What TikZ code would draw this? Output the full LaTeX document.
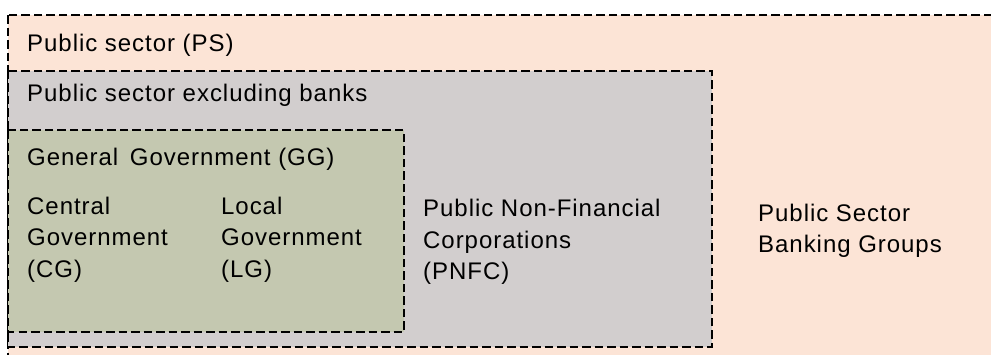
\documentclass[tikz,border=0pt]{standalone}
\usepackage{fontspec}
\setmainfont{Liberation Sans}[LetterSpace=4]
\definecolor{psfill}{HTML}{FCE4D6}
\definecolor{psxbfill}{HTML}{D2CECE}
\definecolor{ggfill}{HTML}{C4C8B0}

\begin{document}
\begin{tikzpicture}[x=1pt,y=-1pt,
  sectorbox/.style={line width=2pt, dash pattern=on 8.5pt off 4pt},
  sectortext/.style={anchor=base west, inner sep=0pt, align=left,
    font=\fontsize{24}{31.5}\selectfont}]

\useasboundingbox (0,0) rectangle (991,354);
\clip (0,0) rectangle (991,354);

% nested sectors, outermost first
\draw[sectorbox, fill=psfill] (8,15) rectangle (1010,380);
\draw[sectorbox, fill=psxbfill] (8,70.5) rectangle (711.5,346.5);
\draw[sectorbox, fill=ggfill] (8,130) rectangle (403.5,332);

% sector titles
\node[sectortext] (ps) at (27,51.5) {Public sector (PS)};
\node[sectortext] (psxb) at (27,101.5) {Public sector excluding banks};
\node[sectortext] (gg) at (27,165) {General\, Government (GG)};

% sub-sectors (base anchor sits on the last line)
\node[sectortext] (cg) at (27,277) {Central\\Government\\(CG)};
\node[sectortext] (lg) at (221,277) {Local\\Government\\(LG)};
\node[sectortext] (pnfc) at (423,279.5) {Public Non-Financial\\Corporations\\(PNFC)};
\node[sectortext] (psbg) at (758,252.5) {Public Sector\\Banking Groups};

\end{tikzpicture}
\end{document}
